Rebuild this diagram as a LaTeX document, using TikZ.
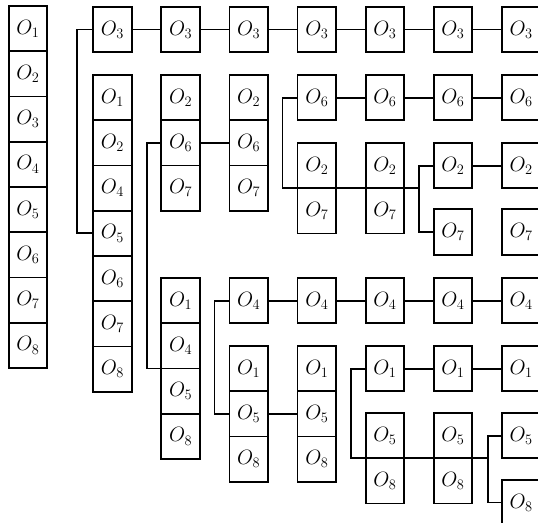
\documentclass[tikz,border=0pt]{standalone}
\usepackage{tikz}

\begin{document}
\begin{tikzpicture}[x=1pt, y=-1pt, line width=1.8pt,
  box/.style={draw, outer sep=0pt, inner sep=0pt, minimum width=38.5pt, minimum height=45.25pt, font=\huge}]
  \useasboundingbox (0,0) rectangle (538,522);
  % column 0: all O_1 ... O_8
  \foreach \o in {1,...,8}
    \node[box] (o\o-0) at (28, {6+45.25*(\o-0.5)}) {$O_\o$};
  % top row of O_3
  \foreach \k in {1,...,7}
    \node[box] (o3-\k) at ({112.5+68.1*(\k-1)}, 29.5) {$O_3$};
  % column 1 stack
  \foreach \o [count=\n] in {1,2,4,5,6,7,8}
    \node[box] (o\o-1) at (112.5, {75+45.25*(\n-0.5)}) {$O_\o$};
  % upper branch: O_2 O_6 O_7
  \foreach \k in {2,3}
    \foreach \o [count=\n] in {2,6,7}
      \node[box] (o\o-\k) at ({112.5+68.1*(\k-1)}, {75+45.25*(\n-0.5)}) {$O_\o$};
  \foreach \k in {4,...,7}
    \node[box] (o6-\k) at ({112.5+68.1*(\k-1)}, 97.6) {$O_6$};
  \foreach \k in {4,5}
    \foreach \o [count=\n] in {2,7}
      \node[box] (o\o-\k) at ({112.5+68.1*(\k-1)}, {143+45.25*(\n-0.5)}) {$O_\o$};
  \foreach \k in {6,7} {
    \node[box] (o2-\k) at ({112.5+68.1*(\k-1)}, 165.6) {$O_2$};
    \node[box] (o7-\k) at ({112.5+68.1*(\k-1)}, 232) {$O_7$};
  }
  % lower branch: O_1 O_4 O_5 O_8
  \foreach \o [count=\n] in {1,4,5,8}
    \node[box] (o\o-2) at (180.6, {278+45.25*(\n-0.5)}) {$O_\o$};
  \foreach \k in {3,...,7}
    \node[box] (o4-\k) at ({112.5+68.1*(\k-1)}, 300.6) {$O_4$};
  \foreach \k in {3,4}
    \foreach \o [count=\n] in {1,5,8}
      \node[box] (o\o-\k) at ({112.5+68.1*(\k-1)}, {346+45.25*(\n-0.5)}) {$O_\o$};
  \foreach \k in {5,6,7}
    \node[box] (o1-\k) at ({112.5+68.1*(\k-1)}, 368.6) {$O_1$};
  \foreach \k in {5,6}
    \foreach \o [count=\n] in {5,8}
      \node[box] (o\o-\k) at ({112.5+68.1*(\k-1)}, {413+45.25*(\n-0.5)}) {$O_\o$};
  \node[box] (o5-7) at (521.1, 435.6) {$O_5$};
  \node[box] (o8-7) at (521.1, 502.5) {$O_8$};
  % straight links along the rows
  \foreach \k [count=\j from 2] in {1,...,6}
    \draw (o3-\k) -- (o3-\j);
  \foreach \k [count=\j from 5] in {4,5,6}
    \draw (o6-\k) -- (o6-\j);
  \foreach \k [count=\j from 4] in {3,...,6}
    \draw (o4-\k) -- (o4-\j);
  \foreach \k [count=\j from 6] in {5,6}
    \draw (o1-\k) -- (o1-\j);
  \draw (o6-2) -- (o6-3);
  \draw (o2-6) -- (o2-7);
  \draw (o5-3) -- (o5-4);
  % brackets
  \draw (o3-1.west) -- ++(-16,0) |- (o5-1.west);
  \draw (o6-2.west) -- ++(-14,0) |- (o5-2.north west);
  \draw (o2-6.west) -- ++(-15,0) coordinate (j1) |- (o7-6.west);
  \draw (o6-4.west) -- ++(-15,0) |- (j1 |- o2-4.south);
  \draw (o4-3.west) -- ++(-15,0) |- (o5-3.west);
  \draw (o5-7.west) -- ++(-14,0) coordinate (j2) |- (o8-7.west);
  \draw (o1-5.west) -- ++(-15,0) |- (j2 |- o5-5.south);
\end{tikzpicture}
\end{document}
